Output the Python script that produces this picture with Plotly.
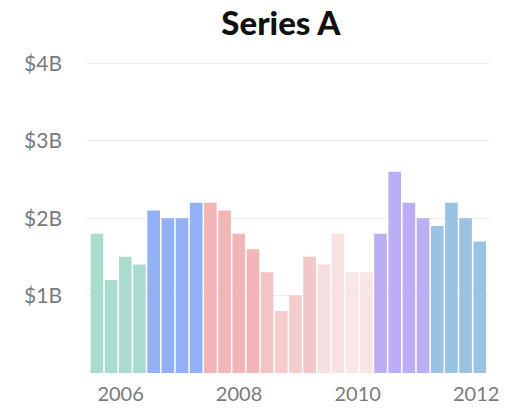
import plotly.graph_objects as go

# Quarterly values, in billions of dollars (2005 Q3 through 2012 Q2)
quarters = [
    "2005 Q3", "2005 Q4",
    "2006 Q1", "2006 Q2", "2006 Q3", "2006 Q4",
    "2007 Q1", "2007 Q2", "2007 Q3", "2007 Q4",
    "2008 Q1", "2008 Q2", "2008 Q3", "2008 Q4",
    "2009 Q1", "2009 Q2", "2009 Q3", "2009 Q4",
    "2010 Q1", "2010 Q2", "2010 Q3", "2010 Q4",
    "2011 Q1", "2011 Q2", "2011 Q3", "2011 Q4",
    "2012 Q1", "2012 Q2",
]
values = [
    1.8, 1.2, 1.5, 1.4,
    2.1, 2.0, 2.0, 2.2,
    2.2, 2.1, 1.8, 1.6, 1.3, 0.8, 1.0, 1.5, 1.4, 1.8, 1.3, 1.3,
    1.8, 2.6, 2.2, 2.0,
    1.9, 2.2, 2.0, 1.7,
]

# Axis labels
y_ticks = [1, 2, 3, 4]
y_tick_text = ["$1B", "$2B", "$3B", "$4B"]
year_ticks = ["2006-01-01", "2008-01-01", "2010-01-01", "2012-01-01"]
year_text = ["2006", "2008", "2010", "2012"]

# Per-bar fill colours, grouped by period
bar_colors = (
    ["#a9dccf"] * 4
    + ["#91b1f4"] * 4
    + ["#f2b4b4", "#f2b4b4", "#f2b5b5", "#f2b6b6",
       "#f4c3c3", "#f5cbcb", "#f5cbcb", "#f3c7c7",
       "#f8dfdf", "#f9e2e2", "#fae5e5", "#fae5e5"]
    + ["#bbaef5"] * 4
    + ["#99c2e3"] * 4
)

font_family = "Lato, 'Open Sans', sans-serif"
label_color = "#7a7a7a"

fig = go.Figure()
fig.add_trace(go.Bar(
    x=quarters,
    y=values,
    marker=dict(color=bar_colors, line=dict(width=0)),
    hovertemplate="%{x}: $%{y}B<extra></extra>",
))
# Empty trace that puts the calendar-year axis on the page
fig.add_trace(go.Scatter(
    x=[], y=[], xaxis="x2", yaxis="y",
    mode="markers", showlegend=False, hoverinfo="skip",
))

fig.update_layout(
    width=506,
    height=408,
    margin=dict(l=87, r=17, t=61, b=35, autoexpand=False),
    paper_bgcolor="white",
    plot_bgcolor="white",
    showlegend=False,
    bargap=0.11,
    font=dict(family=font_family, color=label_color),
    title=dict(
        text="Series A",
        font=dict(family=font_family, size=33, color="#111111", weight=900),
        xref="container", x=0.555, xanchor="center",
        yref="container", y=0.942, yanchor="middle",
    ),
    xaxis=dict(
        type="category",
        range=[-0.7, 27.65],
        showticklabels=False,
        showgrid=False,
        zeroline=False,
        showline=False,
        ticks="",
        automargin=False,
    ),
    xaxis2=dict(
        type="date",
        overlaying="x",
        anchor="y",
        side="bottom",
        range=["2005-06-08", "2012-03-20"],
        tickmode="array",
        tickvals=year_ticks,
        ticktext=year_text,
        tickfont=dict(size=20, color=label_color),
        showgrid=False,
        zeroline=False,
        showline=False,
        ticks="",
        ticklabelstandoff=7,
        automargin=False,
    ),
    yaxis=dict(
        range=[0, 4.03],
        tickmode="array",
        tickvals=y_ticks,
        ticktext=y_tick_text,
        tickfont=dict(size=21, color=label_color),
        showgrid=True,
        gridcolor="#ececec",
        gridwidth=1,
        zeroline=False,
        showline=False,
        ticks="",
        ticklabelstandoff=24,
        automargin=False,
    ),
)

fig.write_html("out.html")
